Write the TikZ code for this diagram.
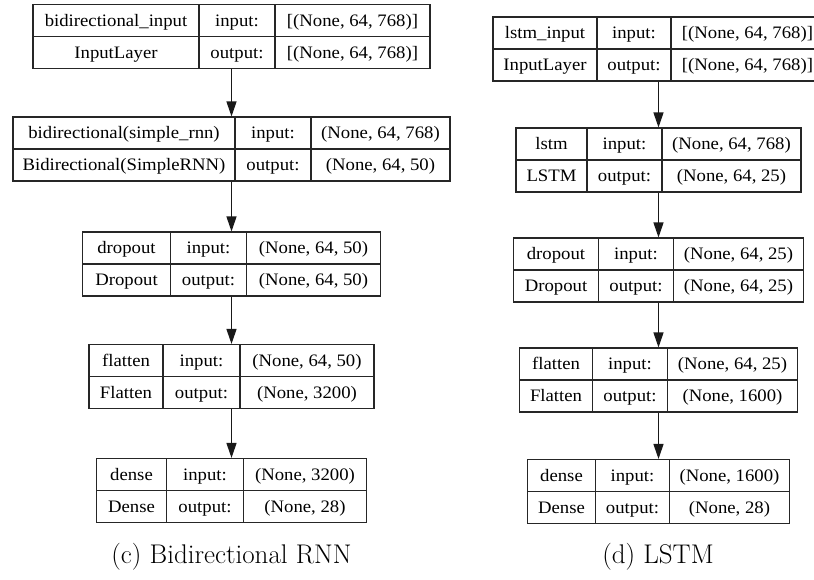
\documentclass[tikz,border=0pt]{standalone}
\usepackage{fontspec}
\newfontfamily\kerasfont[FakeStretch=1.07]{Liberation Serif}
\usetikzlibrary{matrix, arrows.meta}

\begin{document}
\begin{tikzpicture}[x=1pt, y=-1pt,
        layer/.style = {matrix of nodes, inner sep=0pt, outer sep=0pt,
            column sep=-1.1pt, row sep=-1.1pt,
            nodes={draw=black!85, line width=1.1pt, minimum height=32pt, inner sep=0pt,
                text height=13pt, text depth=1.5pt,
                font=\kerasfont\fontsize{17.5}{20}\selectfont}},
        cols/.style n args = {3}{column 1/.style={nodes={minimum width=#1}},
            column 2/.style={nodes={minimum width=#2}},
            column 3/.style={nodes={minimum width=#3}}},
        flow/.style = {-{Triangle[width=10pt,length=15pt]}, line width=1.2pt, black!90},
        caption/.style = {font=\fontsize{27}{30}\selectfont},
        ]
        \path[use as bounding box] (0,0) rectangle (814,579);
        \clip (0,0) rectangle (814,579);

        % bidirectional rnn
        \matrix[layer, cols={166pt}{76pt}{155pt}] (rnnin) at (231.5,36.5) {
            bidirectional\_input & input: & \relax[(None, 64, 768)] \\
            InputLayer & output: & \relax[(None, 64, 768)] \\
        };
        \matrix[layer, cols={222pt}{76pt}{139pt}] (rnnbi) at (231.5,149) {
            bidirectional(simple\_rnn) & input: & \relax(None, 64, 768) \\
            Bidirectional(SimpleRNN) & output: & \relax(None, 64, 50) \\
        };
        \matrix[layer, cols={88pt}{76pt}{134pt}] (rnndrop) at (231.5,264) {
            dropout & input: & \relax(None, 64, 50) \\
            Dropout & output: & \relax(None, 64, 50) \\
        };
        \matrix[layer, cols={74pt}{77pt}{134pt}] (rnnflat) at (231.5,376.5) {
            flatten & input: & \relax(None, 64, 50) \\
            Flatten & output: & \relax(None, 3200) \\
        };
        \matrix[layer, cols={70pt}{77pt}{123pt}] (rnndense) at (231.5,490.5) {
            dense & input: & \relax(None, 3200) \\
            Dense & output: & \relax(None, 28) \\
        };
        \node[caption] (rnncap) at (231.5,557) {(c) Bidirectional RNN};

        \draw[flow] (rnnin) -- (rnnbi);
        \draw[flow] (rnnbi) -- (rnndrop);
        \draw[flow] (rnndrop) -- (rnnflat);
        \draw[flow] (rnnflat) -- (rnndense);

        % lstm
        \matrix[layer, cols={104pt}{74pt}{153pt}] (lstmin) at (658.5,49) {
            lstm\_input & input: & \relax[(None, 64, 768)] \\
            InputLayer & output: & \relax[(None, 64, 768)] \\
        };
        \matrix[layer, cols={71pt}{75pt}{139pt}] (lstmcell) at (658.5,160) {
            lstm & input: & \relax(None, 64, 768) \\
            LSTM & output: & \relax(None, 64, 25) \\
        };
        \matrix[layer, cols={85pt}{75pt}{130pt}] (lstmdrop) at (658.5,270) {
            dropout & input: & \relax(None, 64, 25) \\
            Dropout & output: & \relax(None, 64, 25) \\
        };
        \matrix[layer, cols={73pt}{75pt}{130pt}] (lstmflat) at (658.5,380) {
            flatten & input: & \relax(None, 64, 25) \\
            Flatten & output: & \relax(None, 1600) \\
        };
        \matrix[layer, cols={68pt}{74pt}{120pt}] (lstmdense) at (658.5,491.5) {
            dense & input: & \relax(None, 1600) \\
            Dense & output: & \relax(None, 28) \\
        };
        \node[caption] (lstmcap) at (658,557) {(d) LSTM};

        \draw[flow] (lstmin) -- (lstmcell);
        \draw[flow] (lstmcell) -- (lstmdrop);
        \draw[flow] (lstmdrop) -- (lstmflat);
        \draw[flow] (lstmflat) -- (lstmdense);
    \end{tikzpicture}
\end{document}
